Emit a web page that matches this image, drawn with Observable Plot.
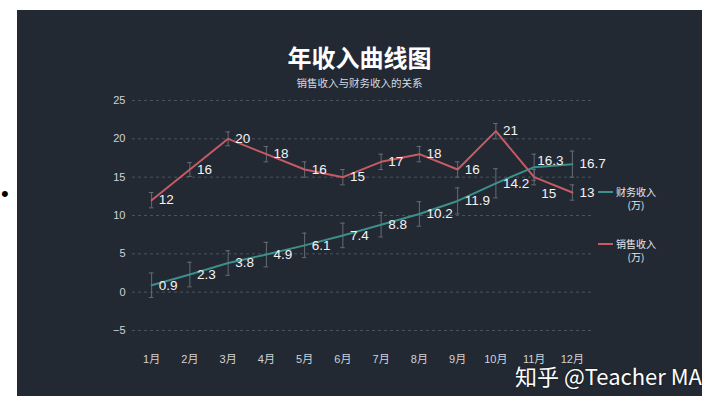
<!DOCTYPE html>
<html><head><meta charset="utf-8">
<script src="https://cdn.jsdelivr.net/npm/d3@7"></script>
<script src="https://cdn.jsdelivr.net/npm/@observablehq/plot@0.6"></script>
<style>
body{margin:0;background:#fff;width:720px;height:405px;position:relative;overflow:hidden;font-family:"Liberation Sans","Noto Sans CJK SC",sans-serif;}
#bullet{position:absolute;left:1px;top:182px;font-size:22px;color:#000;line-height:24px;}
#panel{position:absolute;left:17px;top:10px;width:685px;height:386px;background:#222933;}
#title{position:absolute;top:32px;left:0;width:100%;text-align:center;color:#fff;font-weight:bold;font-size:24px;line-height:30px;font-family:"Noto Sans CJK SC",sans-serif;}
#subtitle{position:absolute;top:66px;left:0;width:100%;text-align:center;color:#d8dbe0;font-size:10.5px;line-height:14px;font-family:"Noto Sans CJK SC",sans-serif;}
#chart{position:absolute;left:0;top:80px;}
.leg{position:absolute;display:flex;align-items:flex-start;color:#e6e8ec;font-size:10px;line-height:13px;font-family:"Noto Sans CJK SC",sans-serif;}
.leg .sw{width:15px;height:2px;margin-top:6px;margin-right:3px;}
.leg .tx{text-align:center;}
#wm{position:absolute;left:515px;top:361px;font-size:22px;line-height:28px;color:#fff;font-family:"Noto Sans CJK SC",sans-serif;text-shadow:0 0 2px rgba(0,0,0,0.6);white-space:nowrap;}
</style>
</head><body>
<div id="bullet">•</div>
<div id="panel">
  <div id="title">年收入曲线图</div>
  <div id="subtitle">销售收入与财务收入的关系</div>
  <div id="chart"></div>
  <div id="legend"></div>
</div>
<div id="wm">知乎 @Teacher MA</div>
<script>
const months = ["1月","2月","3月","4月","5月","6月","7月","8月","9月","10月","11月","12月"];
const sales = [12,16,20,18,16,15,17,18,16,21,15,13];
const finance = [0.9,2.3,3.8,4.9,6.1,7.4,8.8,10.2,11.9,14.2,16.3,16.7];
const salesErr = [1,0.9,0.9,1,1,1,1,1,1,1,1,1];
const financeErr = [1.6,1.6,1.6,1.6,1.6,1.6,1.6,1.6,1.7,1.9,1.7,1.7];
const yTicks = [-5,0,5,10,15,20,25];
const seriesNames = ["财务收入\n(万)","销售收入\n(万)"];
const colors = {sales:"#c65b64", finance:"#3d8f8c"};

const salesRows = months.map((m,i)=>({i, m, v:sales[i], e:salesErr[i]}));
const finRows = months.map((m,i)=>({i, m, v:finance[i], e:financeErr[i]}));
const allRows = salesRows.concat(finRows);
const capW = 0.06;

const chart = Plot.plot({
  width:685, height:306,
  marginLeft:115, marginRight:111, marginTop:10, marginBottom:66,
  style:{background:"transparent", color:"#d0d3d8", fontSize:"11px", fontFamily:"Liberation Sans, Noto Sans CJK SC, sans-serif"},
  x:{domain:[-0.5,11.5], ticks:d3.range(12), tickFormat:i=>months[i], tickSize:0, tickPadding:25, label:null},
  y:{domain:[-5,25], ticks:yTicks, tickSize:0, tickPadding:7, label:null},
  marks:[
    Plot.ruleY(yTicks,{stroke:"#4a525e", strokeDasharray:"3,3", strokeWidth:1}),
    Plot.ruleX(allRows,{x:"i", y1:d=>d.v-d.e, y2:d=>d.v+d.e, stroke:"#656c76", strokeWidth:1}),
    Plot.ruleY(allRows,{y:d=>d.v+d.e, x1:d=>d.i-capW, x2:d=>d.i+capW, stroke:"#656c76", strokeWidth:1}),
    Plot.ruleY(allRows,{y:d=>d.v-d.e, x1:d=>d.i-capW, x2:d=>d.i+capW, stroke:"#656c76", strokeWidth:1}),
    Plot.line(finRows,{x:"i", y:"v", stroke:colors.finance, strokeWidth:2}),
    Plot.line(salesRows,{x:"i", y:"v", stroke:colors.sales, strokeWidth:2}),
    Plot.text(allRows.filter(d=>d.i!==10),{x:"i", y:"v", text:d=>String(d.v), dx:7, textAnchor:"start", fill:"#f4f4f4", fontSize:13.5}),
    Plot.text(salesRows.filter(d=>d.i===10),{x:"i", y:"v", text:d=>String(d.v), dx:7, dy:17, textAnchor:"start", fill:"#f4f4f4", fontSize:13.5}),
    Plot.text(finRows.filter(d=>d.i===10),{x:"i", y:"v", text:d=>String(d.v), dx:3, dy:-7, textAnchor:"start", fill:"#f4f4f4", fontSize:13.5})
  ]
});
document.getElementById("chart").appendChild(chart);

const legend = document.getElementById("legend");
[[seriesNames[0], colors.finance, 175],[seriesNames[1], colors.sales, 227]].forEach(([name,col,top])=>{
  const d = document.createElement("div");
  d.className = "leg";
  d.style.left = "581px"; d.style.top = top + "px";
  const sw = document.createElement("div"); sw.className="sw"; sw.style.background = col;
  const tx = document.createElement("div"); tx.className="tx";
  name.split("\n").forEach((t,k)=>{ if(k) tx.appendChild(document.createElement("br")); tx.appendChild(document.createTextNode(t)); });
  d.appendChild(sw); d.appendChild(tx);
  legend.appendChild(d);
});
</script>
</body></html>
